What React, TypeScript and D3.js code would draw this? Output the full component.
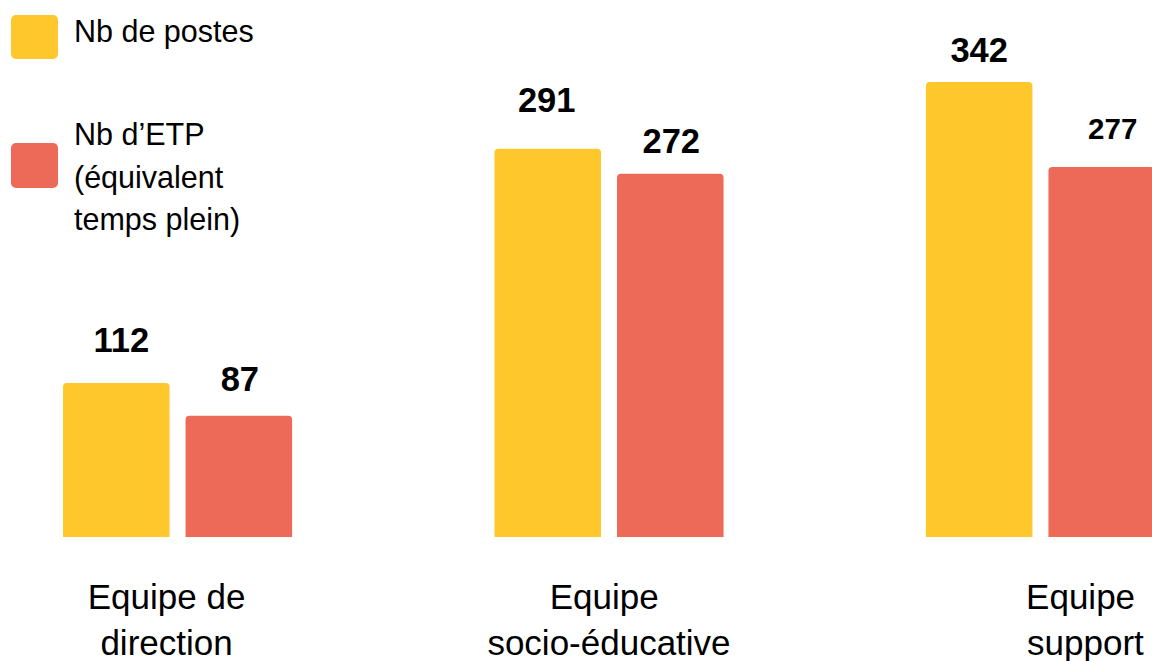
import React from "react";
import * as d3 from "d3";

const categories = ["Equipe de direction", "Equipe socio-éducative", "Equipe support"];
const categoryLines = [["Equipe de", "direction"], ["Equipe ", "socio-éducative"], ["Equipe ", "support"]];
const seriesKeys = ["postes", "etp"];
const seriesNames = ["Nb de postes", "Nb d’ETP (équivalent temps plein)"];
const postes = [112, 291, 342];
const etp = [87, 272, 277];

// presentation tweaks (not data)
const labelDy = [[31, 25], [37, 21], [20, 28]];
const labelDx = [[5, 1], [-1, 1], [0, 11]];
const labelSize = [[34.5, 34.5], [34.5, 34.5], [34.5, 29.5]];
const catDx = [-11, 0, 45];

const W = 1152;
const H = 661;
const COLORS = ["#FEC72C", "#ED6A58"];
const FONT = "'Liberation Sans', Arial, sans-serif";

function topRoundedRect(x: number, y: number, w: number, h: number, r: number) {
  const rr = Math.min(r, h, w / 2);
  return `M${x},${y + h}V${y + rr}Q${x},${y} ${x + rr},${y}H${x + w - rr}Q${x + w},${y} ${x + w},${y + rr}V${y + h}Z`;
}

export default function App() {
  const x0 = d3.scaleBand<string>().domain(categories).range([63, 1155]).paddingInner(0.469).paddingOuter(0);
  const x1 = d3.scaleBand<string>().domain(seriesKeys).range([0, x0.bandwidth()]).paddingInner(0.1306).paddingOuter(0);
  const y = d3.scaleLinear().domain([-5.6, 342]).range([537, 82]);
  const values = [postes, etp];

  return (
    <svg width={W} height={H} style={{ position: "absolute", left: 0, top: 0, background: "#fff" }} fontFamily={FONT}>
      <rect x={0} y={0} width={W} height={H} fill="#fff" />
      {categories.map((c, ci) => (
        <g key={c}>
          {seriesKeys.map((s, si) => {
            const v = values[si][ci];
            const bx = (x0(c) as number) + (x1(s) as number);
            const bw = x1.bandwidth();
            const top = y(v);
            return (
              <g key={s}>
                <path d={topRoundedRect(bx, top, bw, y(-5.6) - top, 4)} fill={COLORS[si]} />
                <text
                  x={bx + bw / 2 + labelDx[ci][si]}
                  y={top - labelDy[ci][si]}
                  textAnchor="middle"
                  fontWeight="bold"
                  fontSize={labelSize[ci][si]}
                  fill="#000"
                >
                  {v}
                </text>
              </g>
            );
          })}
          {categoryLines[ci].map((line, li) => (
            <text
              key={li}
              x={(x0(c) as number) + x0.bandwidth() / 2 + catDx[ci]}
              y={609 + li * 46}
              textAnchor="middle"
              fontSize={35}
              fill="#000"
              style={{ whiteSpace: "pre" }}
            >
              {line}
            </text>
          ))}
        </g>
      ))}
      {/* legend */}
      <g>
        <rect x={11} y={15} width={47} height={44} rx={5} fill={COLORS[0]} />
        <text x={74} y={42} fontSize={30.5} fill="#000">{seriesNames[0]}</text>
        <rect x={11} y={143} width={47} height={45} rx={5} fill={COLORS[1]} />
        {["Nb d’ETP", "(équivalent", "temps plein)"].map((t, i) => (
          <text key={i} x={74} y={145 + i * 42.5} fontSize={30.5} fill="#000">{t}</text>
        ))}
      </g>
    </svg>
  );
}
